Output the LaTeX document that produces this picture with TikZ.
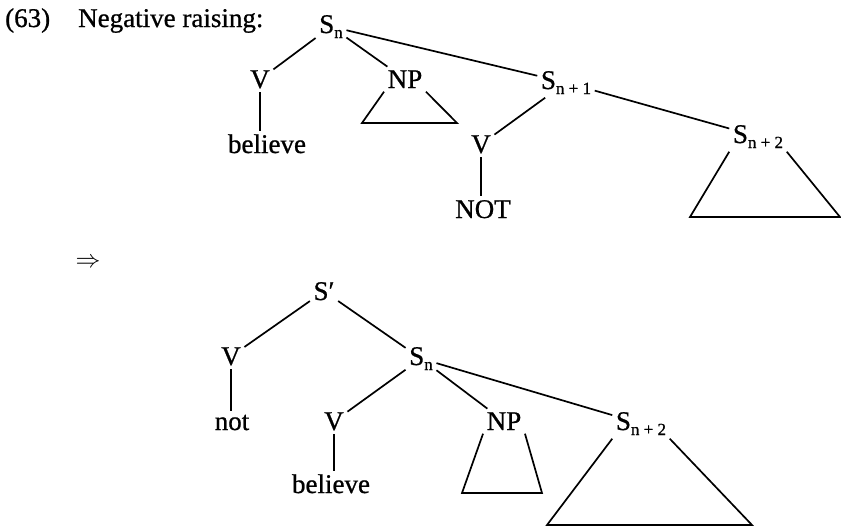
\documentclass[tikz,border=0pt]{standalone}
\usepackage{fontspec}
\setmainfont[FakeBold=0.8]{Liberation Serif}
\usetikzlibrary{positioning}

% S with a lowered subscript
\newcommand{\Sx}[1]{S\raisebox{-5pt}{\fontsize{17}{17}\selectfont #1}}

\begin{document}
\begin{tikzpicture}[
    x=1pt,y=-1pt,
    every node/.style={font=\fontsize{27}{30}\selectfont,inner sep=3.5pt},
    cat/.style={anchor=base},
    branch/.style={line width=1.7pt},
]
\useasboundingbox (0,0) rectangle (841,528);

\node[anchor=base west,inner sep=0pt] (num) at (5,27) {(63)};
\node[anchor=base west,inner sep=0pt] (title) at (78,27) {Negative raising:};

% before
\node[cat] (snA) at (331,33) {\Sx{n}};
\node[cat] (vA) at (260,88) {V};
\node[cat] (npA) at (405,88) {NP};
\node[cat] (belA) at (267,153) {believe};
\node[cat] (sn1A) at (566,89) {\Sx{n + 1}};
\node[cat] (vB) at (481,153) {V};
\node[cat] (notA) at (483,218) {NOT};
\node[cat] (sn2A) at (758,143) {\Sx{n + 2}};
\coordinate (npAl) at (362,123);
\coordinate (npAr) at (457,123);
\coordinate (sn2Al) at (690,217);
\coordinate (sn2Ar) at (840,217);

\draw[branch] (snA) -- (vA);
\draw[branch] (snA) -- (npA);
\draw[branch] (snA) -- (sn1A);
\draw[branch] (vA.south) -- (belA.north -| vA.south);
\draw[branch] (sn1A) -- (vB);
\draw[branch] (vB.south) -- (notA.north -| vB.south);
\draw[branch] (sn1A) -- (sn2A);
\draw[branch] (npA.south west) -- (npAl) -- (npAr) -- (npA.south east);
\draw[branch] (sn2A.south west) -- (sn2Al) -- (sn2Ar) -- (sn2A.south east);

% after
\node (arr) at (88,263) {$\Rightarrow$};
\node[cat] (sp) at (324,300) {S′};
\node[cat] (vC) at (231,365) {V};
\node[cat] (notB) at (232,430) {not};
\node[cat] (snB) at (421,365) {\Sx{n}};
\node[cat] (vD) at (334,430) {V};
\node[cat] (belB) at (331,493) {believe};
\node[cat] (npB) at (504,430) {NP};
\node[cat] (sn2B) at (641,430) {\Sx{n + 2}};
\coordinate (npBl) at (462,493);
\coordinate (npBr) at (542,493);
\coordinate (sn2Bl) at (547,525);
\coordinate (sn2Br) at (752,525);

\draw[branch] (sp) -- (vC);
\draw[branch] (sp) -- (snB);
\draw[branch] (vC.south) -- (notB.north -| vC.south);
\draw[branch] (snB) -- (vD);
\draw[branch] (vD.south) -- (belB.north -| vD.south);
\draw[branch] (snB) -- (npB);
\draw[branch] (snB) -- (sn2B);
\draw[branch] (npB.south west) -- (npBl) -- (npBr) -- (npB.south east);
\draw[branch] (sn2B.south west) -- (sn2Bl) -- (sn2Br) -- (sn2B.south east);
\end{tikzpicture}
\end{document}
